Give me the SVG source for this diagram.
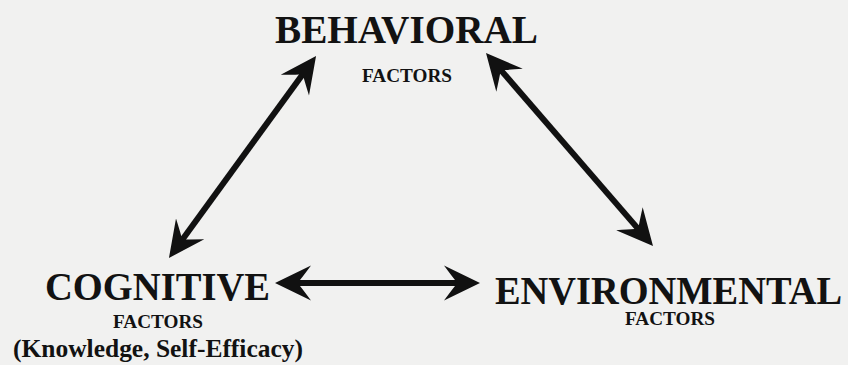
<svg xmlns="http://www.w3.org/2000/svg" width="848" height="365" viewBox="0 0 848 365">
  <style>
    .title { font-family: "Liberation Serif", "Times New Roman", serif; font-weight: bold; font-size: 39px; fill: #121212; }
    .sub { font-family: "Liberation Serif", "Times New Roman", serif; font-weight: bold; font-size: 19px; fill: #121212; }
    .note { font-family: "Liberation Serif", "Times New Roman", serif; font-weight: bold; font-size: 25.5px; fill: #121212; }
    .link { stroke: #111; stroke-width: 6; fill: none; marker-start: url(#dart); marker-end: url(#dart); }
  </style>
  <defs>
    <!-- swept-back dart head; tip sits 22px beyond the line end -->
    <marker id="dart" markerUnits="userSpaceOnUse" orient="auto-start-reverse" refX="0" refY="0" markerWidth="40" markerHeight="40" overflow="visible">
      <path d="M22,0 L-14,-17.5 Q-7,-8 -3,-3 L-3,3 Q-7,8 -14,17.5 Z" fill="#111"/>
    </marker>
  </defs>

  <rect width="848" height="365" fill="#f1f1f0"/>

  <g id="connectors">
    <line class="link" x1="181.9" y1="240.2" x2="303.1" y2="73.8"/>
    <line class="link" x1="500.4" y1="69.6" x2="638.6" y2="229.4"/>
    <line class="link" x1="297" y1="283" x2="458" y2="283"/>
  </g>

  <g id="behavioral">
    <text class="title" x="275" y="43" textLength="263" lengthAdjust="spacingAndGlyphs">BEHAVIORAL</text>
    <text class="sub" x="362" y="82" textLength="90" lengthAdjust="spacingAndGlyphs">FACTORS</text>
  </g>

  <g id="cognitive">
    <text class="title" x="45" y="300" textLength="225" lengthAdjust="spacingAndGlyphs">COGNITIVE</text>
    <text class="sub" x="113" y="328" textLength="90" lengthAdjust="spacingAndGlyphs">FACTORS</text>
    <text class="note" x="13" y="357" textLength="290" lengthAdjust="spacingAndGlyphs">(Knowledge, Self-Efficacy)</text>
  </g>

  <g id="environmental">
    <text class="title" x="495" y="304" textLength="347" lengthAdjust="spacingAndGlyphs">ENVIRONMENTAL</text>
    <text class="sub" x="625" y="325" textLength="90" lengthAdjust="spacingAndGlyphs">FACTORS</text>
  </g>
</svg>
